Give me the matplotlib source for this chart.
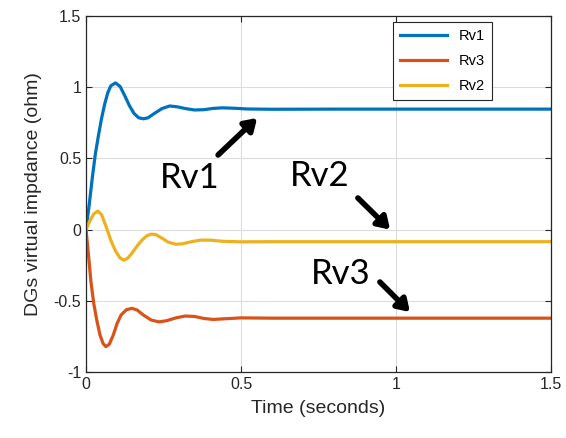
import numpy as np
import matplotlib.pyplot as plt

# valeurs
t_rv1 = [0, 0.01, 0.02, 0.03, 0.04, 0.05, 0.06, 0.07, 0.08, 0.095, 0.11, 0.125,
         0.14, 0.155, 0.17, 0.185, 0.2, 0.22, 0.245, 0.27, 0.295, 0.32, 0.35,
         0.38, 0.41, 0.44, 0.48, 0.52, 0.6, 0.8, 1.5]
rv1 = [0, 0.17, 0.36, 0.53, 0.66, 0.78, 0.88, 0.96, 1.01, 1.03, 1.005, 0.94,
       0.87, 0.815, 0.785, 0.778, 0.785, 0.815, 0.85, 0.868, 0.862, 0.85, 0.84,
       0.842, 0.851, 0.855, 0.852, 0.847, 0.845, 0.846, 0.846]

t_rv2 = [0, 0.012, 0.025, 0.038, 0.05, 0.065, 0.08, 0.095, 0.11, 0.122, 0.135,
         0.15, 0.165, 0.18, 0.195, 0.21, 0.225, 0.245, 0.265, 0.29, 0.31, 0.34,
         0.37, 0.4, 0.44, 0.5, 0.6, 1.5]
rv2 = [0, 0.06, 0.11, 0.13, 0.105, 0.02, -0.075, -0.15, -0.2, -0.215, -0.2,
       -0.16, -0.115, -0.075, -0.045, -0.032, -0.035, -0.06, -0.088, -0.103,
       -0.1, -0.085, -0.074, -0.074, -0.082, -0.086, -0.085, -0.085]

t_rv3 = [0, 0.008, 0.016, 0.025, 0.035, 0.045, 0.055, 0.064, 0.075, 0.088, 0.1,
         0.113, 0.13, 0.148, 0.165, 0.185, 0.21, 0.235, 0.26, 0.29, 0.32, 0.35,
         0.38, 0.41, 0.45, 0.5, 0.6, 1.5]
rv3 = [0, -0.18, -0.37, -0.52, -0.64, -0.74, -0.8, -0.822, -0.805, -0.74, -0.66,
       -0.6, -0.563, -0.553, -0.565, -0.6, -0.635, -0.648, -0.64, -0.62, -0.607,
       -0.61, -0.624, -0.631, -0.626, -0.62, -0.622, -0.622]

xticks = [0, 0.5, 1, 1.5]
yticks = [-1, -0.5, 0, 0.5, 1, 1.5]
xtick_labels = ['0', '0.5', '1', '1.5']
ytick_labels = ['-1', '-0.5', '0', '0.5', '1', '1.5']

# annotations: (texte, position texte, queue fleche, pointe fleche)
notes = [("Rv1", (0.335, 0.36), (0.426, 0.524), (0.552, 0.784)),
         ("Rv2", (0.755, 0.376), (0.877, 0.222), (0.981, 0.0)),
         ("Rv3", (0.823, -0.312), (0.948, -0.368), (1.045, -0.579))]

plt.rcParams['font.family'] = ['Liberation Sans', 'DejaVu Sans']

fig = plt.figure(figsize=(5.66, 4.38), dpi=100)
ax = fig.add_axes([0.152, 0.1507, 0.8215, 0.8128])

ax.plot(t_rv1, rv1, color='#0072BD', lw=2.3, label='Rv1')
ax.plot(t_rv3, rv3, color='#D95319', lw=2.3, label='Rv3')
ax.plot(t_rv2, rv2, color='#EDB120', lw=2.3, label='Rv2')

ax.set_xlim(0, 1.5)
ax.set_ylim(-1, 1.5)
ax.set_xticks(xticks)
ax.set_xticklabels(xtick_labels)
ax.set_yticks(yticks)
ax.set_yticklabels(ytick_labels)
ax.grid(True, color='#dcdcdc', lw=0.8)
ax.set_axisbelow(True)
ax.tick_params(direction='in', top=True, right=True, labelsize=11.5,
               colors='#262626', length=4)
for s in ax.spines.values():
    s.set_color('#262626')
    s.set_linewidth(0.9)

ax.set_xlabel('Time (seconds)', fontsize=14, color='#262626', labelpad=6)
ax.set_ylabel('DGs virtual impdance (ohm)', fontsize=14, color='#262626', labelpad=8)

leg = ax.legend(loc='upper right', bbox_to_anchor=(0.873, 0.983), fontsize=10.5,
                fancybox=False, edgecolor='#262626', framealpha=1,
                handlelength=3.2, borderaxespad=0, labelspacing=0.75,
                borderpad=0.5)
leg.get_frame().set_linewidth(0.8)

for txt, pos, tail, tip in notes:
    ax.text(pos[0], pos[1], txt, fontsize=25, family=['Lato', 'DejaVu Sans'],
            ha='center', va='center', color='black')
    ax.annotate('', xy=tip, xytext=tail,
                arrowprops=dict(arrowstyle='-|>,head_length=0.7,head_width=0.45',
                                lw=4, color='black', shrinkA=0, shrinkB=0))

fig.savefig('out.png', dpi=100)
